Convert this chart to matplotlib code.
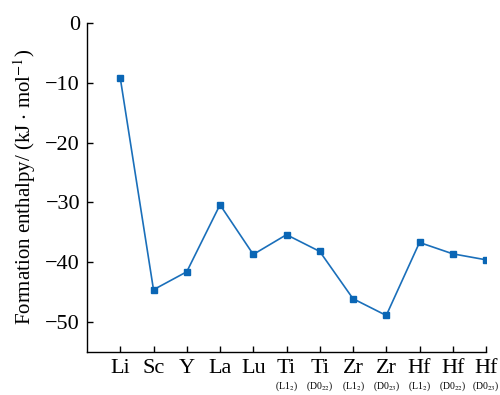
import matplotlib
matplotlib.use("Agg")
import matplotlib.pyplot as plt
import matplotlib.transforms as mtransforms

elements = ["Li", "Sc", "Y", "La", "Lu", "Ti", "Ti", "Zr", "Zr", "Hf", "Hf", "Hf"]
phases = ["", "", "", "", "", r"(L1$_2$)", r"(D0$_{22}$)", r"(L1$_2$)", r"(D0$_{23}$)",
          r"(L1$_2$)", r"(D0$_{22}$)", r"(D0$_{23}$)"]
enthalpy = [-9.2, -44.6, -41.6, -30.4, -38.7, -35.4, -38.2, -46.1, -48.9, -36.7, -38.6, -39.6]
yticks = [0, -10, -20, -30, -40, -50]

plt.rcParams['font.family'] = ['Liberation Serif', 'DejaVu Serif']
plt.rcParams['mathtext.fontset'] = 'stix'
plt.rcParams['axes.unicode_minus'] = True

fig = plt.figure(figsize=(5, 3.95), dpi=100)
ax = fig.add_axes([0.174, 0.109, 0.798, 0.833])
x = list(range(len(elements)))
ax.plot(x, enthalpy, color='#1a6fba', lw=1.2, marker='s', markersize=5,
        markerfacecolor='#0a66b5', markeredgecolor='#0a66b5')
ax.set_xlim(-1, 11)
ax.set_ylim(-55, 0)
ax.set_yticks(yticks)
ax.set_yticklabels([("\u2212%d" % abs(v)) if v < 0 else "0" for v in yticks], fontsize=16)
ax.set_xticks(x)
ax.set_xticklabels(elements, fontsize=16)
ax.tick_params(direction='in', length=4, width=1, pad=5)
ax.tick_params(axis='x', pad=5)
for s in ['top', 'right']:
    ax.spines[s].set_visible(False)
for s in ['left', 'bottom']:
    ax.spines[s].set_linewidth(1)
ax.set_ylabel(r"Formation enthalpy/ (kJ $\cdot$ mol$^{-1}$)", fontsize=15, labelpad=5)

trans = mtransforms.blended_transform_factory(ax.transData, ax.transAxes)
for xi, p in zip(x, phases):
    if p:
        ax.text(xi, -0.105, p, transform=trans, ha='center', va='center', fontsize=7)

fig.savefig("out.png", dpi=100)
